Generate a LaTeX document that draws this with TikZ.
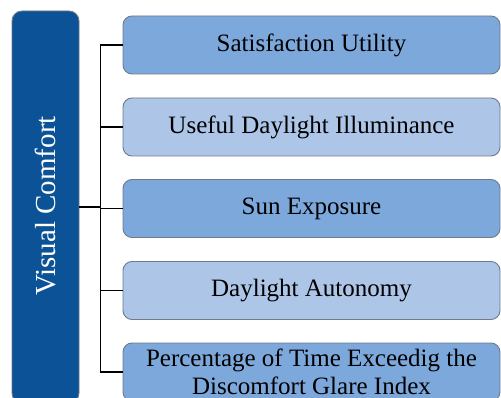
\documentclass[tikz,border=0pt]{standalone}
\usepackage{fontspec}
\setmainfont{Liberation Serif}
\definecolor{midblue}{HTML}{7DA8DB}
\definecolor{lightblue}{HTML}{ADC6E8}
\definecolor{darkblue}{HTML}{0B5296}
\definecolor{edgegray}{HTML}{6E7B8A}
\tikzset{
  item/.style={draw=edgegray, line width=0.9pt, rounded corners=9pt, minimum width=377pt, minimum height=58pt, inner sep=0pt, align=center, font=\fontsize{25}{28}\selectfont},
  mid/.style={item, fill=midblue},
  light/.style={item, fill=lightblue},
  conn/.style={draw=black, line width=1.4pt},
}
\begin{document}
\begin{tikzpicture}[x=1pt,y=-1pt]
\useasboundingbox (0,0) rectangle (501,398);
\clip (0,0) rectangle (501,398);
\node[draw=edgegray, line width=0.9pt, fill=darkblue, rounded corners=10pt, minimum width=67pt, minimum height=392pt, inner sep=0pt] (vc) at (45.5,207) {};
\node[rotate=90, text=white, font=\fontsize{29}{32}\selectfont] (vct) at (45.5,206) {Visual Comfort};
\node[mid] (b1) at (311.5,45) {Satisfaction Utility};
\node[light] (b2) at (311.5,127) {Useful Daylight Illuminance};
\node[mid] (b3) at (311.5,208.5) {Sun Exposure};
\node[light] (b4) at (311.5,290.5) {Daylight Autonomy};
\node[mid] (b5) at (311.5,372) {Percentage of Time Exceedig the\\Discomfort Glare Index};
\coordinate (tr) at (100.5,0);
\draw[conn] (b1.west) -- (b1.west -| tr) -- (b5.west -| tr) -- (b5.west);
\draw[conn] (b2.west) -- (b2.west -| tr);
\draw[conn] (b3.west) -- (b3.west -| tr);
\draw[conn] (b4.west) -- (b4.west -| tr);
\draw[conn] (vc.east) -- (vc.east -| tr);
\end{tikzpicture}
\end{document}
